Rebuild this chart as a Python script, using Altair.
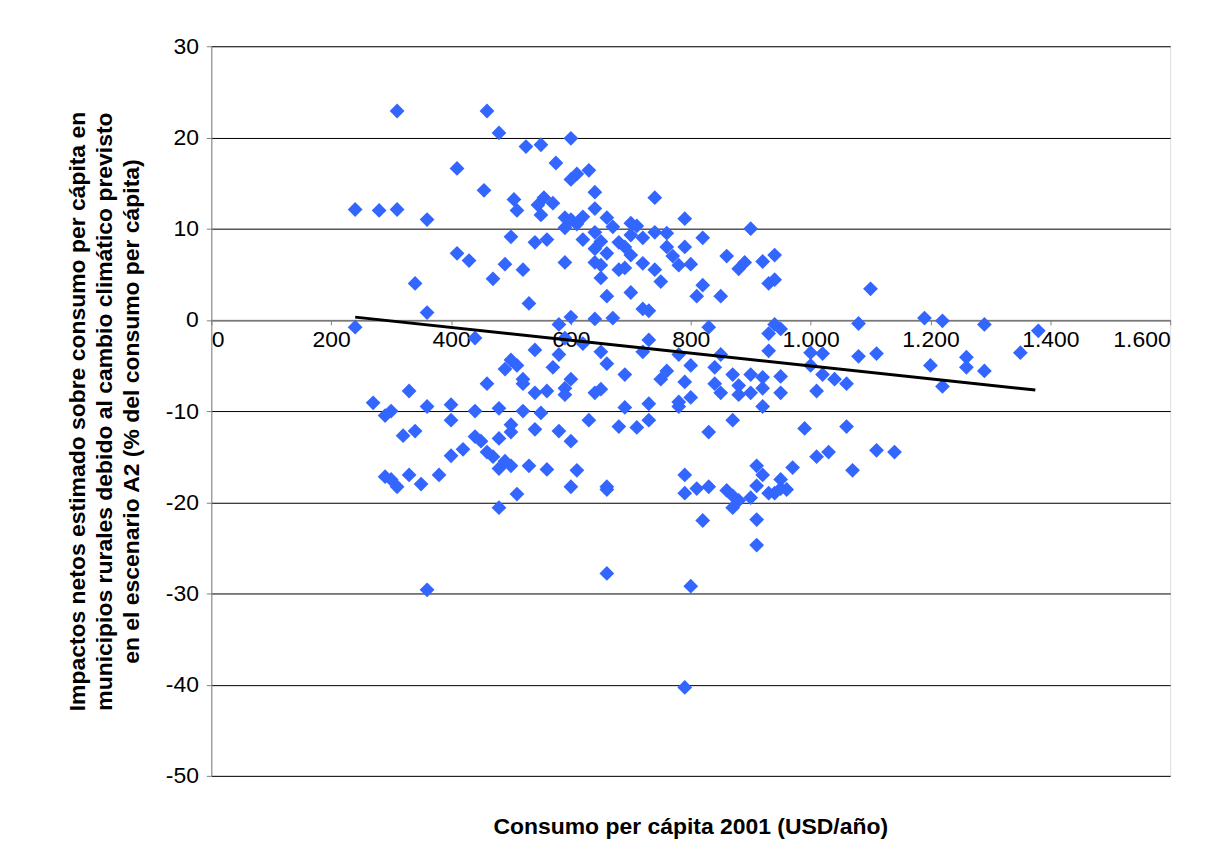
import altair as alt
import pandas as pd

pts = [
    (310,22.9),(460,22.9),(480,20.5),(600,19.9),(525,19),(550,19.2),(575,17.2),(410,16.6),(630,16.4),(600,15.4),
    (610,16),(455,14.2),(640,14),(505,13.2),(555,13.4),(740,13.4),(545,12.6),(570,12.8),(510,12),(240,12.1),
    (280,12),(310,12.1),(550,11.5),(640,12.2),(660,11.2),(620,11.3),(590,11.2),(600,11),(790,11.1),(360,11),
    (700,10.6),(710,10.3),(670,10.2),(900,10),(590,10.1),(610,10.5),
    (640,9.6),(700,9.3),(740,9.6),(760,9.5),(650,8.6),(760,8),(790,8),(540,8.5),(560,8.8),(500,9.1),(620,8.8),
    (680,8.5),(690,8),(720,9),(820,9),(640,7.8),(660,7.3),(700,7.1),(770,7),(860,7),(940,7.1),(410,7.3),(430,6.5),
    (490,6.1),(590,6.3),(640,6.3),(650,6),(720,6.2),(780,6),(800,6.1),(890,6.3),(920,6.4),(680,5.5),(690,5.7),
    (740,5.5),(520,5.5),(470,4.5),(650,4.6),(750,4.2),(930,4),(940,4.4),(880,5.6),(340,4),(820,3.8),(700,3),
    (810,2.6),(660,2.6),(850,2.6),(530,1.8),(720,1.2),(730,1),(360,0.8),(1100,3.4),(600,0.3),(640,0.1),(670,0.2),
    (1190,0.2),(1220,-0.1),(1290,-0.5),(1380,-1.2),(1080,-0.4),(940,-0.5),(950,-1),(930,-1.5),(240,-0.8),(830,-0.8),
    (580,-0.5),(440,-2),(590,-2),(730,-2.2),(620,-2.6),(540,-3.3),(580,-3.8),(720,-3.5),(780,-3.8),(650,-3.5),
    (850,-3.8),(930,-3.4),(1000,-3.6),(1020,-3.7),(1110,-3.7),(1080,-4),(1350,-3.6),(1260,-4.1),(500,-4.4),(510,-5),
    (570,-5.2),(660,-4.8),(800,-5),(840,-5.2),(1000,-5),(1200,-5),(1260,-5.2),(1290,-5.6),(490,-5.4),(760,-5.6),
    (870,-6),(900,-6),(950,-6.2),(1020,-6),(1040,-6.5),(520,-6.5),(600,-6.5),(690,-6),(520,-7),(460,-7),(590,-7.5),
    (650,-7.6),(750,-6.5),(790,-6.8),(840,-7),(880,-7.2),(920,-7.5),(1010,-7.8),(1060,-7),(1220,-7.3),(330,-7.8),
    (560,-7.8),(920,-6.3),(540,-8),(590,-8.2),(640,-8),(880,-8.2),(900,-8),(950,-8),(800,-8.5),(850,-8),(780,-9),
    (780,-9.5),(920,-9.5),(730,-9.2),(690,-9.6),(360,-9.5),(400,-9.3),(270,-9.1),(300,-10),(290,-10.5),(440,-10),
    (520,-10),(480,-9.7),(550,-10.2),
    (420,-14.2),(320,-12.7),(340,-12.2),(400,-11),(440,-12.8),(450,-13.3),(480,-13),(500,-11.5),(500,-12.3),
    (470,-15),(460,-14.5),(490,-15.5),(500,-16),(480,-16.3),(380,-17),(330,-17),(290,-17.2),(300,-17.5),(310,-18.3),
    (350,-18),(400,-14.9),(540,-12),(580,-12.2),(600,-13.3),(630,-11),(680,-11.7),(710,-11.8),(730,-11),(830,-12.3),
    (870,-11),(990,-11.9),(1060,-11.7),(600,-18.3),(610,-16.5),(560,-16.4),(530,-16),(510,-19.1),(480,-20.6),
    (660,-18.3),(660,-18.6),(790,-17),(830,-18.3),(810,-18.5),(790,-19),(860,-18.7),(870,-19.3),(880,-19.8),
    (870,-20.6),(900,-19.5),(910,-18.2),(920,-17),(910,-16),(930,-19),(950,-18.5),(950,-17.5),(970,-16.2),
    (1010,-15),(1030,-14.5),(1070,-16.5),(1110,-14.3),(1140,-14.5),(820,-22),(910,-21.9),(910,-24.7),(660,-27.8),
    (800,-29.2),(360,-29.6),(790,-40.3),(940,-19),(960,-18.6),
]
consumo = [p[0] for p in pts]
impacto = [p[1] for p in pts]

trend_x = [240, 1375]
trend_y = [0.3, -7.7]

df = pd.DataFrame({'x': consumo, 'y': impacto})
trend = pd.DataFrame({'x': trend_x, 'y': trend_y})

H = 732
xs = alt.Scale(domain=[0, 1600], nice=False, zero=False)
ys = alt.Scale(domain=[-50, 30], nice=False)

points = alt.Chart(df).mark_point(shape='diamond', filled=True, size=220, color='#3366FF', opacity=1).encode(
    x=alt.X('x:Q', scale=xs, axis=alt.Axis(
        orient='bottom', offset=-H * 50 / 80, values=list(range(0, 1601, 200)),
        labelExpr="replace(format(datum.value, ','), ',', '.')",
        grid=False, title=None, labelFontSize=23, labelColor='black',
        domainColor='#808080', tickColor='#808080', tickSize=5, labelPadding=4)),
    y=alt.Y('y:Q', scale=ys, axis=alt.Axis(
        values=list(range(-50, 31, 10)), gridColor='black', domainColor='#808080',
        labelExpr="replace(format(datum.value, 'd'), '−', '-')",
        tickColor='#808080', labelFontSize=23, labelColor='black', labelPadding=8,
        title=['Impactos netos estimado sobre consumo per cápita en',
               'municipios rurales debido al cambio climático previsto',
               'en el escenario A2 (% del consumo per cápita)'],
        titleFontSize=23, titleLineHeight=27, titleFontWeight='bold', titlePadding=22, titleColor='black'))
)

line = alt.Chart(trend).mark_line(color='black', strokeWidth=3).encode(
    x=alt.X('x:Q', scale=xs), y=alt.Y('y:Q', scale=ys))

chart = alt.layer(points, line).properties(
    width=962, height=H, autosize='none',
    padding={'left': 204, 'top': 37, 'right': 50, 'bottom': 73},
    title=alt.TitleParams('Consumo per cápita 2001 (USD/año)', orient='bottom', anchor='middle',
                          fontSize=23, fontWeight='bold', offset=28, color='black'),
).configure_view(stroke=None).configure(font='Liberation Sans')

chart.save("out.html", embed_options={"renderer": "svg", "actions": False})
